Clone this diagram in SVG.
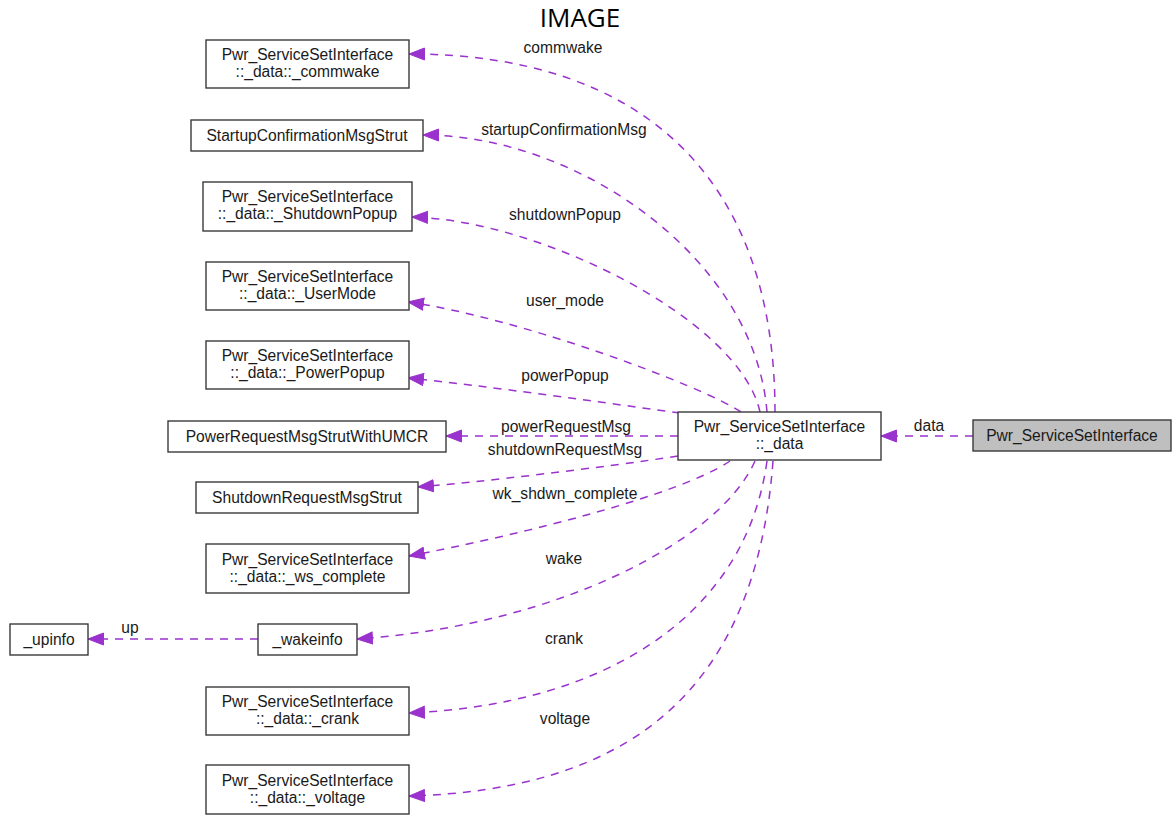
<svg xmlns="http://www.w3.org/2000/svg" width="1172" height="815" viewBox="0 0 1172 815">
  <style>
    .node rect { fill: #ffffff; stroke: #3a3a3a; stroke-width: 1.4; }
    .node.root rect { fill: #bfbfbf; }
    .node text, .elabel { font-family: "Liberation Sans", Arial, sans-serif; font-size: 15.6px; fill: #1a1a1a; text-anchor: middle; }
    .edge { fill: none; stroke: #9a32cd; stroke-width: 1.5; stroke-dasharray: 8 7; marker-end: url(#arrow); }
    .title { font-family: "Open Sans", "Noto Sans", sans-serif; font-size: 26px; fill: #000; text-anchor: middle; }
  </style>
  <defs>
    <marker id="arrow" markerUnits="userSpaceOnUse" markerWidth="17" markerHeight="14" refX="16" refY="7" orient="auto" viewBox="0 0 17 14">
      <path d="M0.5,1 L16,7 L0.5,13 Z" fill="#9a32cd" stroke="#9a32cd" stroke-width="1"/>
    </marker>
  </defs>

  <rect width="1172" height="815" fill="#ffffff"/>
  <text class="title" x="580" y="27">IMAGE</text>

  <!-- connectors -->
  <g id="edges">
    <path class="edge" d="M775,412 C775,180 645,54 409,54"/>
    <path class="edge" d="M767,412 C755,260 580,135 423,135"/>
    <path class="edge" d="M760,412 C740,320 540,220 412,217"/>
    <path class="edge" d="M741,412 C700,385 520,318 408,302"/>
    <path class="edge" d="M680,413 C620,405 480,385 408,378"/>
    <path class="edge" d="M678,436 L446,436"/>
    <path class="edge" d="M678,456 C600,468 480,482 418,487"/>
    <path class="edge" d="M730,461 C680,495 520,535 409,556"/>
    <path class="edge" d="M755,461 C720,540 560,625 357,639"/>
    <path class="edge" d="M767,461 C745,620 600,705 409,713"/>
    <path class="edge" d="M773,461 C755,700 620,790 409,796"/>
    <path class="edge" d="M258,639 L88,639"/>
    <path class="edge" d="M973,436 L881,436"/>

    <text class="elabel" x="563" y="53">commwake</text>
    <text class="elabel" x="564" y="135">startupConfirmationMsg</text>
    <text class="elabel" x="565" y="220">shutdownPopup</text>
    <text class="elabel" x="565" y="306">user_mode</text>
    <text class="elabel" x="565" y="381">powerPopup</text>
    <text class="elabel" x="566" y="432">powerRequestMsg</text>
    <text class="elabel" x="565" y="455">shutdownRequestMsg</text>
    <text class="elabel" x="565" y="499">wk_shdwn_complete</text>
    <text class="elabel" x="564" y="564">wake</text>
    <text class="elabel" x="564" y="644">crank</text>
    <text class="elabel" x="565" y="724">voltage</text>
    <text class="elabel" x="929" y="431">data</text>
    <text class="elabel" x="130" y="633">up</text>
  </g>

  <!-- nodes -->
  <g id="node-root" class="node root">
    <rect x="973" y="420" width="198" height="31"/>
    <text x="1072" y="441">Pwr_ServiceSetInterface</text>
  </g>
  <g id="node-data" class="node">
    <rect x="678" y="412" width="203" height="48"/>
    <text x="779.5" y="432">Pwr_ServiceSetInterface</text>
    <text x="779.5" y="449">::_data</text>
  </g>
  <g id="node-commwake" class="node">
    <rect x="206" y="40" width="203" height="48"/>
    <text x="307.5" y="60">Pwr_ServiceSetInterface</text>
    <text x="307.5" y="77">::_data::_commwake</text>
  </g>
  <g id="node-startup" class="node">
    <rect x="191" y="120" width="232" height="31"/>
    <text x="307" y="140.5">StartupConfirmationMsgStrut</text>
  </g>
  <g id="node-shutdownpopup" class="node">
    <rect x="203" y="182" width="209" height="49"/>
    <text x="307.5" y="202">Pwr_ServiceSetInterface</text>
    <text x="307.5" y="219">::_data::_ShutdownPopup</text>
  </g>
  <g id="node-usermode" class="node">
    <rect x="206" y="262" width="203" height="48"/>
    <text x="307.5" y="282">Pwr_ServiceSetInterface</text>
    <text x="307.5" y="299">::_data::_UserMode</text>
  </g>
  <g id="node-powerpopup" class="node">
    <rect x="206" y="341" width="203" height="48"/>
    <text x="307.5" y="361">Pwr_ServiceSetInterface</text>
    <text x="307.5" y="378">::_data::_PowerPopup</text>
  </g>
  <g id="node-powerrequest" class="node">
    <rect x="168" y="421" width="278" height="31"/>
    <text x="307" y="441.5">PowerRequestMsgStrutWithUMCR</text>
  </g>
  <g id="node-shutdownrequest" class="node">
    <rect x="196" y="482" width="222" height="31"/>
    <text x="307" y="502.5">ShutdownRequestMsgStrut</text>
  </g>
  <g id="node-wscomplete" class="node">
    <rect x="206" y="544" width="203" height="49"/>
    <text x="307.5" y="564.5">Pwr_ServiceSetInterface</text>
    <text x="307.5" y="581.5">::_data::_ws_complete</text>
  </g>
  <g id="node-wakeinfo" class="node">
    <rect x="258" y="624" width="99" height="31"/>
    <text x="307.5" y="644.5">_wakeinfo</text>
  </g>
  <g id="node-upinfo" class="node">
    <rect x="10" y="624" width="78" height="31"/>
    <text x="49" y="644.5">_upinfo</text>
  </g>
  <g id="node-crank" class="node">
    <rect x="206" y="687" width="203" height="48"/>
    <text x="307.5" y="707">Pwr_ServiceSetInterface</text>
    <text x="307.5" y="724">::_data::_crank</text>
  </g>
  <g id="node-voltage" class="node">
    <rect x="206" y="765" width="203" height="49"/>
    <text x="307.5" y="785.5">Pwr_ServiceSetInterface</text>
    <text x="307.5" y="802.5">::_data::_voltage</text>
  </g>
</svg>
